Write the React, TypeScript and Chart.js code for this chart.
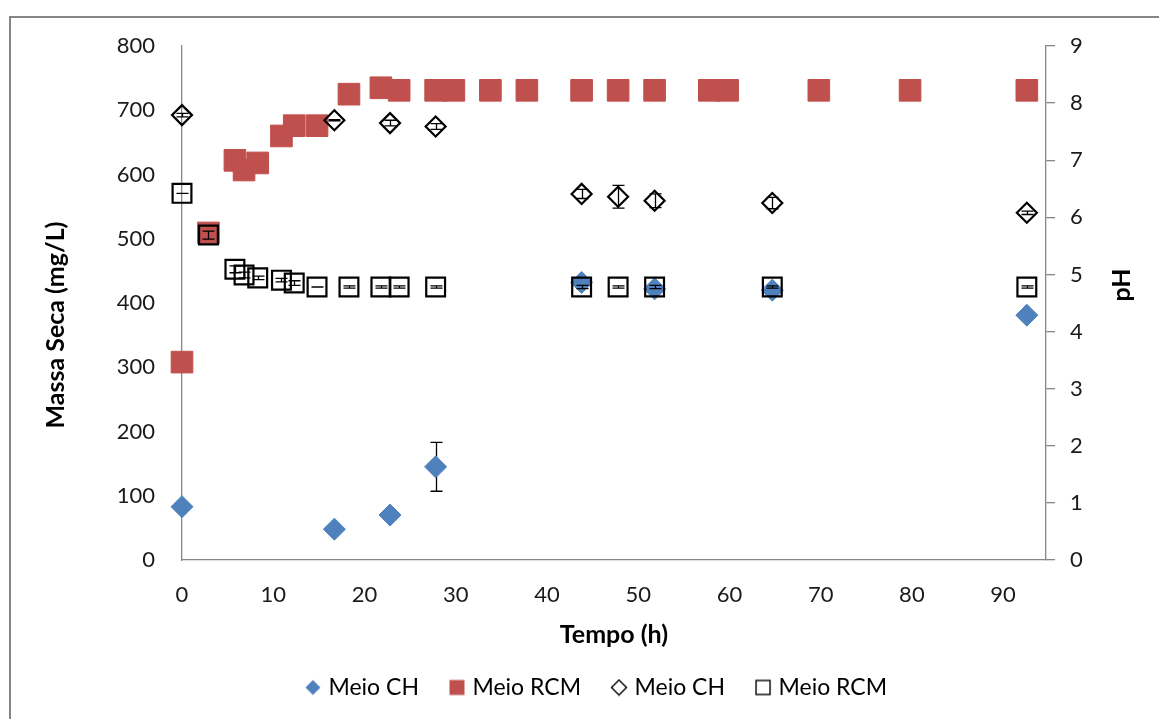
import React, { useEffect, useRef } from 'react';
import { Chart, registerables } from 'chart.js';

Chart.register(...registerables);

// Dry mass (mg/L) – CH medium
const timeMassCH = [0, 16.7, 22.8, 27.8, 43.8, 51.8, 64.7, 92.6];
const massCH = [83, 48, 70, 145, 432, 422, 420, 381];
const massCHErr = [4, 5, 7, 38, 4, 6, 5, 3];

// Dry mass (mg/L) – RCM medium
const timeMassRCM = [0, 2.9, 5.8, 6.8, 8.3, 10.9, 12.3, 14.8, 18.3, 21.8, 23.8, 27.8, 29.8, 33.8, 37.8, 43.8, 47.8, 51.8, 57.8, 59.8, 69.8, 79.8, 92.6];
const massRCM = [308, 509, 622, 607, 618, 660, 676, 676, 725, 735, 731, 731, 731, 731, 731, 731, 731, 731, 731, 731, 731, 731, 731];

// pH – CH medium
const timePhCH = [0, 16.7, 22.8, 27.8, 43.8, 47.8, 51.8, 64.7, 92.6];
const phCH = [7.79, 7.7, 7.65, 7.59, 6.41, 6.36, 6.29, 6.25, 6.08];
const phCHErr = [0.03, 0.01, 0.05, 0.05, 0.08, 0.2, 0.12, 0.1, 0.03];

// pH – RCM medium
const timePhRCM = [0, 2.9, 5.8, 6.8, 8.3, 10.9, 12.3, 14.8, 18.3, 21.8, 23.8, 27.8, 43.8, 47.8, 51.8, 64.7, 92.6];
const phRCM = [6.42, 5.69, 5.09, 4.99, 4.94, 4.9, 4.85, 4.78, 4.78, 4.78, 4.78, 4.78, 4.78, 4.78, 4.78, 4.78, 4.78];
const phRCMErr = [0, 0.07, 0.06, 0.05, 0.03, 0.03, 0.04, 0, 0.02, 0.02, 0.02, 0.02, 0.03, 0.02, 0.03, 0.02, 0.02];

const seriesLabels = ['Meio CH', 'Meio RCM', 'Meio CH', 'Meio RCM'];
const xTitle = 'Tempo (h)';
const yLeftTitle = 'Massa Seca (mg/L)';
const yRightTitle = 'pH';

const BLUE = '#4F81BD';
const RED = '#C0504D';
const AXIS = '#868686';
const FONT = 'Lato, "Open Sans", sans-serif';

const toPoints = (xs: number[], ys: number[]) => xs.map((x, i) => ({ x, y: ys[i] }));

function makeIcon(kind: string): HTMLCanvasElement {
  const c = document.createElement('canvas');
  c.width = 18;
  c.height = 18;
  const g = c.getContext('2d')!;
  const m = 9;
  g.lineWidth = 1.4;
  g.strokeStyle = '#000';
  if (kind === 'diamondFill' || kind === 'diamondOpen') {
    g.beginPath();
    g.moveTo(m, m - 7.5);
    g.lineTo(m + 7.5, m);
    g.lineTo(m, m + 7.5);
    g.lineTo(m - 7.5, m);
    g.closePath();
    if (kind === 'diamondFill') {
      g.fillStyle = BLUE;
      g.fill();
    } else {
      g.stroke();
    }
  } else if (kind === 'squareFill') {
    g.fillStyle = RED;
    g.fillRect(m - 7.5, m - 7.5, 15, 15);
  } else {
    g.strokeRect(m - 7, m - 7, 14, 14);
  }
  return c;
}

// Each series' error bars are painted just before its own markers,
// so filled markers sit on top of their bars while later series stay above.
const errorBars = {
  id: 'errorBars',
  beforeDatasetDraw(chart: any, args: any) {
    const ds: any = chart.data.datasets[args.index];
    if (!ds.errors) return;
    const { ctx } = chart;
    const meta = args.meta;
    const scale = chart.scales[ds.yAxisID];
    ctx.save();
    ctx.strokeStyle = '#000';
    ctx.lineWidth = 1.3;
    meta.data.forEach((pt: any, j: number) => {
      const e = ds.errors[j];
      if (e === undefined) return;
      const v = ds.data[j].y;
      const x = Math.round(pt.x) + 0.5;
      const yTop = scale.getPixelForValue(v + e);
      const yBot = scale.getPixelForValue(v - e);
      ctx.beginPath();
      ctx.moveTo(x, yTop);
      ctx.lineTo(x, yBot);
      ctx.moveTo(x - 6, yTop);
      ctx.lineTo(x + 6, yTop);
      ctx.moveTo(x - 6, yBot);
      ctx.lineTo(x + 6, yBot);
      ctx.stroke();
    });
    ctx.restore();
  },
};

const axisTitles = {
  id: 'axisTitles',
  afterDraw(chart: any) {
    const { ctx, chartArea } = chart;
    const midY = (chartArea.top + chartArea.bottom) / 2;
    ctx.save();
    ctx.font = `bold 25px ${FONT}`;
    ctx.fillStyle = '#000';
    ctx.textAlign = 'center';
    ctx.textBaseline = 'middle';
    ctx.fillText(xTitle, (chartArea.left + chartArea.right) / 2, chartArea.bottom + 75);
    ctx.save();
    ctx.translate(chartArea.left - 126, midY + 22);
    ctx.rotate(-Math.PI / 2);
    ctx.fillText(yLeftTitle, 0, 0);
    ctx.restore();
    ctx.save();
    ctx.translate(chartArea.right + 76, midY - 18);
    ctx.rotate(-Math.PI / 2);
    ctx.fillText(yRightTitle, 0, 0);
    ctx.restore();
    ctx.restore();
  },
};

const PAD_LEFT = 37;
const PAD_BOTTOM = 10;
const AREA_LEFT = 182;
const AREA_RIGHT = 1046;
const AREA_TOP = 46;
const AREA_BOTTOM = 560;

export default function App() {
  const ref = useRef<HTMLCanvasElement | null>(null);

  useEffect(() => {
    const canvas = ref.current;
    if (!canvas) return;
    const icons = [makeIcon('diamondFill'), makeIcon('squareFill'), makeIcon('diamondOpen'), makeIcon('squareOpen')];

    const chart = new Chart(canvas, {
      type: 'scatter',
      data: {
        datasets: [
          {
            label: seriesLabels[0],
            data: toPoints(timeMassCH, massCH),
            errors: massCHErr,
            yAxisID: 'y',
            pointStyle: 'rectRot',
            pointRadius: 11,
            pointBackgroundColor: BLUE,
            pointBorderColor: BLUE,
            pointBorderWidth: 1,
            clip: false,
            order: 4,
          } as any,
          {
            label: seriesLabels[1],
            data: toPoints(timeMassRCM, massRCM),
            yAxisID: 'y',
            pointStyle: 'rect',
            pointRadius: 15.3,
            pointBackgroundColor: RED,
            pointBorderColor: RED,
            pointBorderWidth: 1,
            clip: false,
            order: 3,
          } as any,
          {
            label: seriesLabels[2],
            data: toPoints(timePhCH, phCH),
            errors: phCHErr,
            yAxisID: 'y1',
            pointStyle: 'rectRot',
            pointRadius: 10,
            pointBackgroundColor: 'rgba(0,0,0,0)',
            pointBorderColor: '#000',
            pointBorderWidth: 2.2,
            clip: false,
            order: 2,
          } as any,
          {
            label: seriesLabels[3],
            data: toPoints(timePhRCM, phRCM),
            errors: phRCMErr,
            yAxisID: 'y1',
            pointStyle: 'rect',
            pointRadius: 13.3,
            pointBackgroundColor: 'rgba(0,0,0,0)',
            pointBorderColor: '#000',
            pointBorderWidth: 2.2,
            clip: false,
            order: 1,
          } as any,
        ],
      },
      options: {
        animation: false,
        responsive: false,
        devicePixelRatio: 1,
        layout: { padding: { left: PAD_LEFT, right: 0, top: AREA_TOP, bottom: PAD_BOTTOM } },
        plugins: {
          tooltip: { enabled: false },
          legend: {
            position: 'bottom',
            labels: {
              usePointStyle: true,
              boxWidth: 8,
              boxHeight: 8,
              padding: 34,
              color: '#000',
              font: { family: FONT, size: 23 },
              generateLabels: (c: any) =>
                c.data.datasets.map((ds: any, i: number) => ({
                  text: ds.label,
                  datasetIndex: i,
                  pointStyle: icons[i],
                  fillStyle: 'rgba(0,0,0,0)',
                  strokeStyle: 'rgba(0,0,0,0)',
                  lineWidth: 0,
                  hidden: false,
                  fontColor: '#000',
                })),
            },
          },
        },
        scales: {
          x: {
            type: 'linear',
            min: 0,
            max: 94.7,
            grid: { display: false },
            border: { display: true, color: AXIS, width: 1.3 },
            ticks: {
              stepSize: 10,
              includeBounds: false,
              padding: 14,
              color: '#1a1a1a',
              font: { family: FONT, size: 22 },
              maxRotation: 0,
            },
            afterFit: (s: any) => {
              const lg = s.chart.legend;
              const lh = lg && lg.height ? lg.height : 54;
              s.height = s.chart.height - PAD_BOTTOM - lh - AREA_BOTTOM;
            },
          },
          y: {
            type: 'linear',
            position: 'left',
            min: 0,
            max: 800,
            grid: { display: false },
            border: { display: true, color: AXIS, width: 1.3 },
            ticks: {
              stepSize: 100,
              padding: 19,
              color: '#1a1a1a',
              font: { family: FONT, size: 22 },
            },
            afterFit: (s: any) => {
              s.width = AREA_LEFT - PAD_LEFT;
            },
          },
          y1: {
            type: 'linear',
            position: 'right',
            min: 0,
            max: 9,
            grid: { drawOnChartArea: false, drawTicks: true, tickLength: 9, color: AXIS, lineWidth: 1.3 },
            border: { display: true, color: AXIS, width: 1.3 },
            ticks: {
              stepSize: 1,
              padding: 15,
              color: '#1a1a1a',
              font: { family: FONT, size: 22 },
            },
            afterFit: (s: any) => {
              s.width = s.chart.width - AREA_RIGHT;
            },
          },
        },
      } as any,
      plugins: [errorBars, axisTitles],
    });

    return () => chart.destroy();
  }, []);

  return (
    <div style={{ position: 'fixed', left: 0, top: 0, width: 1159, height: 719, background: '#fff', overflow: 'hidden' }}>
      <div
        style={{
          position: 'absolute',
          left: 9,
          top: 16,
          right: 0,
          bottom: 0,
          borderLeft: `2px solid ${AXIS}`,
          borderTop: `2px solid ${AXIS}`,
        }}
      />
      <canvas ref={ref} width={1159} height={719} style={{ position: 'absolute', left: 0, top: 0 }} />
    </div>
  );
}
